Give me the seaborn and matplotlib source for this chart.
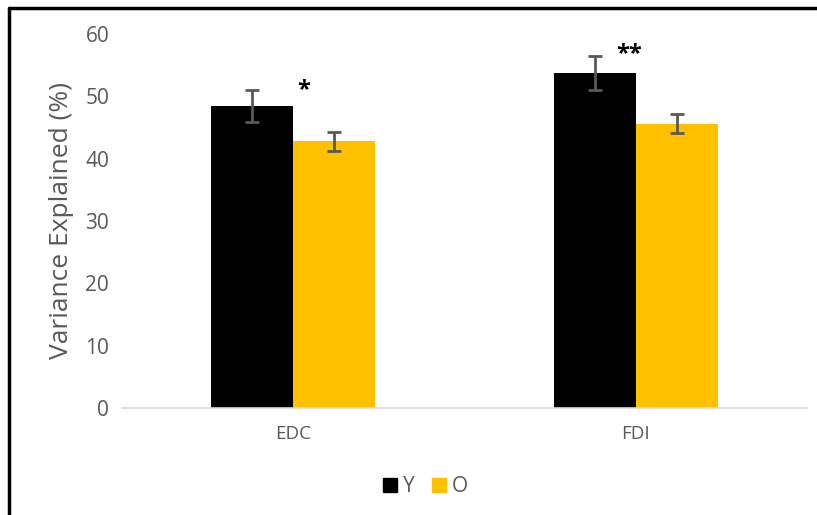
import numpy as np
import pandas as pd
import matplotlib
matplotlib.use("Agg")
import matplotlib.pyplot as plt
from matplotlib.lines import Line2D
import seaborn as sns

# ── data ──────────────────────────────────────
muscles = ["EDC", "FDI"]
groups = ["Y", "O"]
young_vals = [48.4, 53.7]
old_vals = [42.8, 45.6]
young_err = [2.6, 2.7]
old_err = [1.5, 1.5]
stars = ["*", "**"]
star_y = [51.0, 56.8]
star_dx = [0.03, -0.02]

colors = {"Y": "#000000", "O": "#FFC000"}
gray = "#595959"

df = pd.DataFrame({
    "muscle": muscles * 2,
    "group": ["Y"] * 2 + ["O"] * 2,
    "value": young_vals + old_vals,
    "err": young_err + old_err,
})

sns.set_theme(style="white")
plt.rcParams["font.family"] = ["Open Sans", "DejaVu Sans"]

fig = plt.figure(figsize=(8.17, 5.15), dpi=100)
ax = fig.add_axes([0.149, 0.208, 0.839, 0.726])

sns.barplot(data=df, x="muscle", y="value", hue="group", order=muscles,
            hue_order=groups, palette=colors, width=0.48, gap=0,
            errorbar=None, saturation=1, linewidth=0, legend=False, ax=ax)

# error bars at bar centres
for bars, g in zip(ax.containers, groups):
    sub = df[df["group"] == g].set_index("muscle").loc[muscles]
    xs = [b.get_x() + b.get_width() / 2 for b in bars]
    ax.errorbar(xs, sub["value"], yerr=sub["err"], fmt="none",
                ecolor=gray, elinewidth=2, capsize=5, capthick=2)

# significance stars
for i, (s, y, dx) in enumerate(zip(stars, star_y, star_dx)):
    ax.text(i + dx, y, s, ha="center", va="center", fontsize=17,
            fontweight="bold", color="black")

ax.set_xlim(-0.5, 1.5)
ax.set_ylim(0, 60)
ax.set_yticks(range(0, 61, 10))
ax.set_xlabel("")
ax.set_ylabel("Variance Explained (%)", fontsize=19, color=gray, labelpad=8)
ax.tick_params(axis="y", labelsize=15, colors=gray, length=0, pad=9)
ax.tick_params(axis="x", labelsize=13.5, colors=gray, length=0, pad=12)
for side in ["top", "right", "left"]:
    ax.spines[side].set_visible(False)
ax.spines["bottom"].set_color("#D9D9D9")
ax.spines["bottom"].set_linewidth(1.2)

handles = [Line2D([], [], marker="s", linestyle="none", markersize=10,
                  markerfacecolor=colors[g], markeredgecolor=colors[g])
           for g in groups]
fig.legend(handles, groups, loc="center", bbox_to_anchor=(0.52, 0.055),
           ncol=2, frameon=False, fontsize=15, handlelength=0.8,
           handletextpad=0.2, columnspacing=0.8, labelcolor=gray)

# frame lines on top and left only
fig.add_artist(Line2D([0.011, 1.0], [0.984, 0.984], color="black",
                      linewidth=2.5, transform=fig.transFigure))
fig.add_artist(Line2D([0.011, 0.011], [0.0, 0.984], color="black",
                      linewidth=2.5, transform=fig.transFigure))

fig.savefig("out.png", dpi=100)
